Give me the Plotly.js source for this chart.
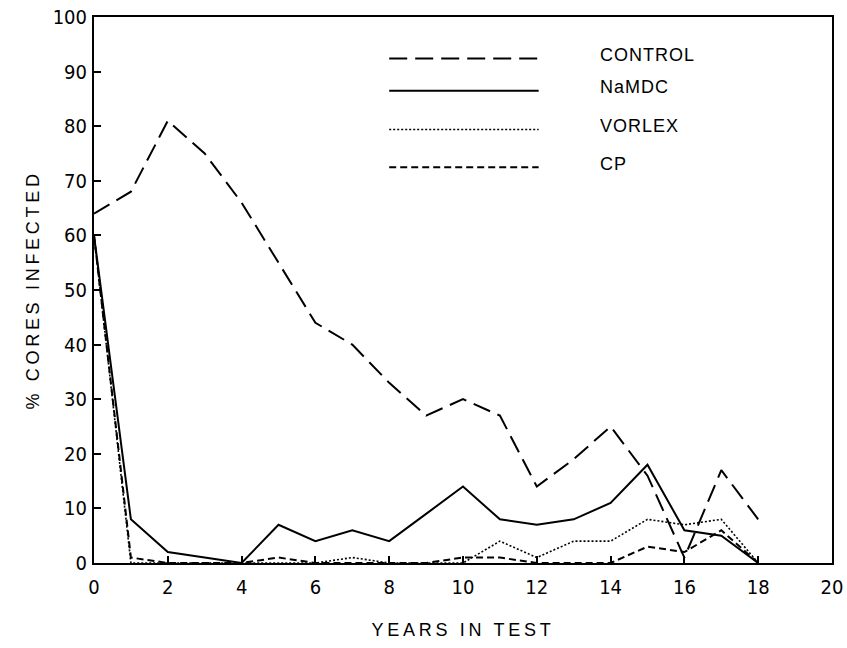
<!DOCTYPE html>
<html>
<head>
<meta charset="utf-8">
<script src="https://cdn.plot.ly/plotly-3.0.1.min.js"></script>
<style>
  html, body { margin: 0; padding: 0; background: #fff; }
  #chart { width: 847px; height: 648px; }
  .xtitle, .ytitle { letter-spacing: 3.7px; }
  .annotation-text { letter-spacing: 1px; }
</style>
</head>
<body>
<div id="chart"></div>
<script>
// Percentage of cores infected per year, by treatment
const years   = [0, 1, 2, 3, 4, 5, 6, 7, 8, 9, 10, 11, 12, 13, 14, 15, 16, 17, 18];
const control = [64, 68, 81, 75, 66, 55, 44, 40, 33, 27, 30, 27, 14, 19, 25, 16, 1, 17, 8];
const namdc   = [60, 8, 2, 1, 0, 7, 4, 6, 4, 9, 14, 8, 7, 8, 11, 18, 6, 5, 0];
const vorlex  = [60, 0, 0, 0, 0, 0, 0, 1, 0, 0, 0, 4, 1, 4, 4, 8, 7, 8, 0];
const cp      = [60, 1, 0, 0, 0, 1, 0, 0, 0, 0, 1, 1, 0, 0, 0, 3, 2, 6, 0];

const seriesNames = ['CONTROL', 'NaMDC', 'VORLEX', 'CP'];
const seriesData  = [control, namdc, vorlex, cp];
const lineStyles = [
  { dash: '18px,8px', width: 2 },
  { dash: 'solid', width: 2 },
  { dash: '2px,2px', width: 1.6 },
  { dash: '7px,4px', width: 2 }
];

const traces = seriesData.map((vals, i) => ({
  x: years,
  y: vals,
  type: 'scatter',
  mode: 'lines',
  name: seriesNames[i],
  line: { color: '#000', dash: lineStyles[i].dash, width: lineStyles[i].width },
  showlegend: false,
  hoverinfo: 'skip'
}));

// Key drawn inside the plot: sample line plus label per series
const keyY = [92.4, 86.5, 79.4, 72.5];
const shapes = seriesNames.map((n, i) => ({
  type: 'line', xref: 'x', yref: 'y',
  x0: 8, x1: 12.05, y0: keyY[i], y1: keyY[i],
  line: { color: '#000', dash: lineStyles[i].dash, width: lineStyles[i].width }
}));
const annotations = seriesNames.map((n, i) => ({
  xref: 'x', yref: 'y', x: 13.66, y: keyY[i] + 0.6,
  xanchor: 'left', yanchor: 'middle', showarrow: false,
  text: n,
  font: { family: 'Liberation Sans, Arial, sans-serif', size: 18, color: '#000' }
}));

const tickFont = { family: 'Liberation Sans Narrow, DejaVu Sans Condensed, sans-serif', size: 20, color: '#000' };
const titleFont = { family: 'Liberation Sans, Arial, sans-serif', size: 18, color: '#000' };

const layout = {
  width: 847, height: 648,
  margin: { l: 94, r: 15, t: 17, b: 85 },
  paper_bgcolor: '#fff', plot_bgcolor: '#fff',
  showlegend: false,
  xaxis: {
    range: [0, 20], dtick: 2, tick0: 0,
    showgrid: false, zeroline: false,
    showline: true, mirror: true, linecolor: '#000', linewidth: 2,
    ticks: 'inside', ticklen: 7, tickwidth: 2, tickcolor: '#000',
    tickfont: tickFont, ticklabelstandoff: 5,
    title: { text: 'YEARS IN TEST', font: titleFont, standoff: 25 }
  },
  yaxis: {
    range: [0, 100], dtick: 10, tick0: 0,
    showgrid: false, zeroline: false,
    showline: true, mirror: true, linecolor: '#000', linewidth: 2,
    ticks: 'inside', ticklen: 7, tickwidth: 2, tickcolor: '#000',
    tickfont: tickFont, ticklabelstandoff: 1,
    title: { text: '% CORES INFECTED', font: titleFont, standoff: 8 }
  },
  shapes: shapes,
  annotations: annotations
};

Plotly.newPlot('chart', traces, layout, { staticPlot: true, displayModeBar: false });
</script>
</body>
</html>
